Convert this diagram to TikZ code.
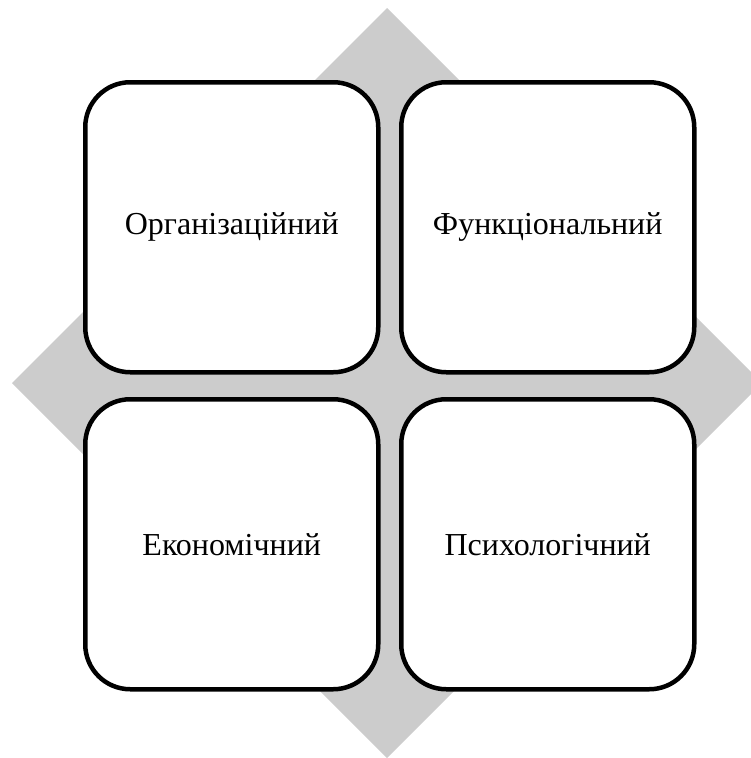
\documentclass[tikz,border=0pt]{standalone}
\usepackage{fontspec}
\setmainfont{Liberation Serif}
\begin{document}
\begin{tikzpicture}[x=1pt,y=-1pt,
  card/.style={draw=black, line width=4.5pt, fill=white, rounded corners=45pt,
    minimum width=293pt, minimum height=290pt, inner sep=0pt,
    font=\fontsize{32}{38}\selectfont, anchor=north west},
  backdrop/.style={fill=black!20, draw=none}]
  \useasboundingbox (0,0) rectangle (751,758);
  % grey diamond behind the four cards
  \coordinate (dt) at (387,8);
  \coordinate (dr) at (762,383);
  \coordinate (db) at (387,758);
  \coordinate (dl) at (12,383);
  \fill[backdrop] (dt) -- (dr) -- (db) -- (dl) -- cycle;
  % the four cards
  \node[card] (org) at (83,80) {Організаційний};
  \node[card] (fun) at (399,80) {Функціональний};
  \node[card] (eco) at (83,397) {Економічний};
  \node[card] (psy) at (399,397) {Психологічний};
\end{tikzpicture}
\end{document}
